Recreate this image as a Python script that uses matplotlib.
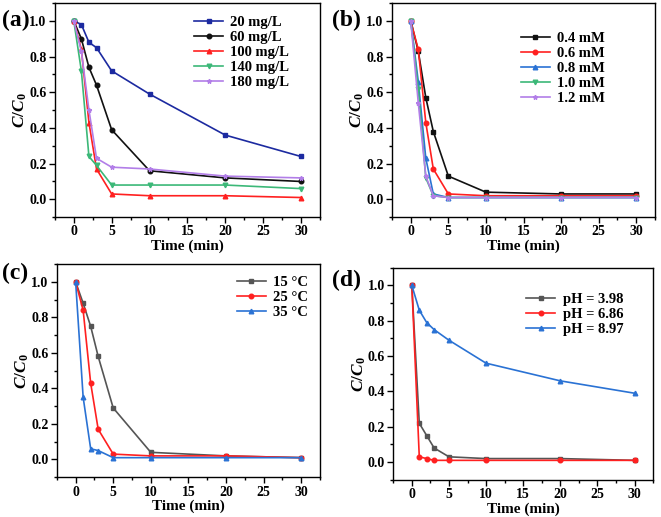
import matplotlib
matplotlib.use("Agg")
from matplotlib import pyplot as plt
from matplotlib.ticker import MultipleLocator

plt.rcParams['font.family'] = ['Liberation Serif', 'DejaVu Serif']
plt.rcParams['font.weight'] = 'bold'
plt.rcParams['mathtext.fontset'] = 'custom'
plt.rcParams['mathtext.it'] = 'Liberation Serif:italic:bold'
plt.rcParams['mathtext.rm'] = 'Liberation Serif:bold'

## shared time axis
time = [0, 1, 2, 3, 5, 10, 20, 30]

## (a) initial concentration
labels_a = ['20 mg/L', '60 mg/L', '100 mg/L', '140 mg/L', '180 mg/L']
a_20 = [1.0, 0.98, 0.88, 0.85, 0.72, 0.59, 0.36, 0.24]
a_60 = [1.0, 0.90, 0.74, 0.64, 0.39, 0.16, 0.12, 0.10]
a_100 = [1.0, 0.84, 0.43, 0.17, 0.03, 0.02, 0.02, 0.01]
a_140 = [1.0, 0.72, 0.24, 0.19, 0.08, 0.08, 0.08, 0.06]
a_180 = [1.0, 0.83, 0.50, 0.23, 0.18, 0.17, 0.13, 0.12]

## (b) oxidant dose
labels_b = ['0.4 mM', '0.6 mM', '0.8 mM', '1.0 mM', '1.2 mM']
b_04 = [1.0, 0.83, 0.57, 0.38, 0.13, 0.04, 0.03, 0.03]
b_06 = [1.0, 0.84, 0.43, 0.17, 0.03, 0.02, 0.02, 0.02]
b_08 = [1.0, 0.66, 0.23, 0.03, 0.01, 0.01, 0.01, 0.01]
b_10 = [1.0, 0.62, 0.12, 0.02, 0.01, 0.01, 0.01, 0.01]
b_12 = [1.0, 0.54, 0.13, 0.02, 0.01, 0.01, 0.01, 0.01]

## (c) temperature
labels_c = ['15 \u00b0C', '25 \u00b0C', '35 \u00b0C']
c_15 = [1.0, 0.88, 0.75, 0.58, 0.29, 0.04, 0.02, 0.01]
c_25 = [1.0, 0.84, 0.43, 0.17, 0.03, 0.02, 0.02, 0.01]
c_35 = [1.0, 0.35, 0.06, 0.05, 0.01, 0.01, 0.01, 0.01]

## (d) pH
labels_d = ['pH = 3.98', 'pH = 6.86', 'pH = 8.97']
d_398 = [1.0, 0.22, 0.15, 0.08, 0.03, 0.02, 0.02, 0.01]
d_686 = [1.0, 0.03, 0.02, 0.01, 0.01, 0.01, 0.01, 0.01]
d_897 = [1.0, 0.86, 0.79, 0.75, 0.69, 0.56, 0.46, 0.39]

navy = '#1c2aa0'
black = '#111111'
red = '#ff2020'
green = '#3cb878'
violet = '#b27ee8'
blue = '#2a72d4'
gray = '#555555'

fig = plt.figure(figsize=(6.61, 5.17), dpi=100)
W, H = 661.0, 517.0
boxes = [[0.083, 0.580, 0.401, 0.414],
         [0.593, 0.580, 0.398, 0.414],
         [0.086, 0.077, 0.398, 0.412],
         [0.595, 0.072, 0.393, 0.410]]
## legend anchor (upper right corner, axes fraction)
leg_anchor = [(0.885, 0.94), (0.81, 0.865), (0.955, 0.945), (0.885, 0.88)]
## panel tag position in pixels (left, vertical centre)
tag_pos = [(2, 20), (332, 20), (2, 273), (332, 280)]

panels = [
    ('(a)', [a_20, a_60, a_100, a_140, a_180], labels_a,
     [navy, black, red, green, violet], ['s', 'o', '^', 'v', '*']),
    ('(b)', [b_04, b_06, b_08, b_10, b_12], labels_b,
     [black, red, blue, green, violet], ['s', 'o', '^', 'v', '*']),
    ('(c)', [c_15, c_25, c_35], labels_c,
     [gray, red, blue], ['s', 'o', '^']),
    ('(d)', [d_398, d_686, d_897], labels_d,
     [gray, red, blue], ['s', 'o', '^']),
]

for box, anc, tp, (tag, series, labels, colors, marks) in zip(boxes, leg_anchor, tag_pos, panels):
    ax = fig.add_axes(box)
    for y, lab, col, m in zip(series, labels, colors, marks):
        ax.plot(time, y, color=col, marker=m, markersize=3.3, lw=1.2, label=lab)
    ax.set_xlim(-2.5, 32.5)
    ax.set_ylim(-0.1, 1.1)
    ax.xaxis.set_minor_locator(MultipleLocator(2.5))
    ax.yaxis.set_minor_locator(MultipleLocator(0.1))
    ax.tick_params(which='both', direction='out', width=1, labelsize=10, pad=2)
    ax.tick_params(which='major', length=4)
    ax.tick_params(which='minor', length=2)
    ax.set_xticks([0, 5, 10, 15, 20, 25, 30])
    ax.set_yticks([0.0, 0.2, 0.4, 0.6, 0.8, 1.0])
    ax.set_yticklabels(['0.0', '0.2', '0.4', '0.6', '0.8', '1.0'])
    for s in ax.spines.values():
        s.set_linewidth(1)
    ax.set_xlabel('Time (min)', fontsize=11, fontweight='bold', labelpad=1)
    ax.set_ylabel('$C/C_0$', fontsize=12.5, labelpad=0)
    ax.legend(loc='upper right', frameon=False, fontsize=10.5, handlelength=2.0,
              handletextpad=0.5, labelspacing=0.12, borderpad=0, borderaxespad=0,
              bbox_to_anchor=anc)
    fig.text(tp[0] / W, 1 - tp[1] / H, tag, fontsize=17, fontweight='bold',
             ha='left', va='center')

fig.savefig('out.png', dpi=100)
